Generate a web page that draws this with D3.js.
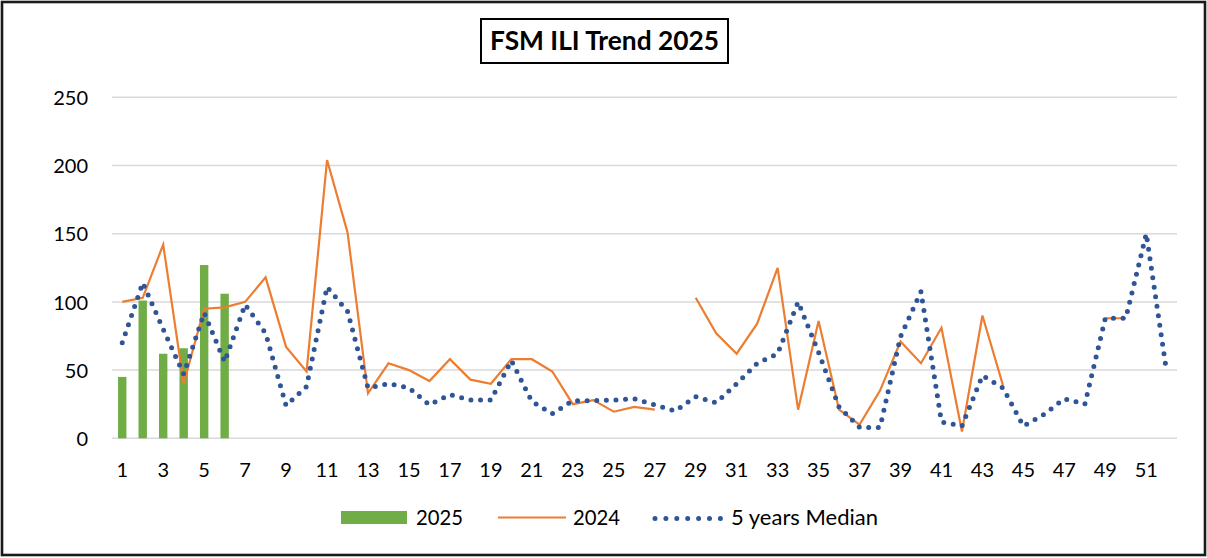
<!DOCTYPE html>
<html>
<head>
<meta charset="utf-8">
<script src="https://cdn.jsdelivr.net/npm/d3@7"></script>
<style>
  html, body { margin: 0; padding: 0; background: #fff; }
  svg { display: block; font-family: Lato, "Open Sans", sans-serif; }
</style>
</head>
<body>
<svg id="chart" width="1207" height="558"></svg>
<script>
// ---- data ----
const weeks = d3.range(1, 53);
const series2025 = [45, 101, 62, 66, 127, 106];
const series2024 = [100, 103, 142, 40, 95, 96, 100, 118, 67, 49,
                    204, 151, 33, 55, 50, 42, 58, 43, 40, 58,
                    58, 49, 25, 28, 19.5, 23, 21, null, 103, 77,
                    62, 84, 125, 21, 86, 21, 10, 35, 71, 55,
                    81, 5, 90, 39, null, null, null, null, 88, 88,
                    null, null];
const median5 = [70, 114, 80, 47, 92, 56, 98, 77, 24, 38,
                 111, 93, 37, 40, 37, 24.5, 32, 28, 28, 57,
                 27, 18, 27.6, 27.6, 28, 29, 24.5, 20, 30.5, 26,
                 40, 55, 62, 100, 63, 23, 8, 8, 74.5, 107.5,
                 12, 9, 46, 37, 9, 17.5, 29, 25, 88, 88,
                 150, 48];
const yTicks = [0, 50, 100, 150, 200, 250];
const xTickLabels = weeks.filter(w => w % 2 === 1);
const titleText = "FSM ILI Trend 2025";
const legendLabels = ["2025", "2024", "5 years Median"];

// ---- layout ----
const svg = d3.select("#chart");
const plot = { left: 112, right: 1177, top: 97.3, bottom: 438.3 };
const colors = { c2025: "#70ad47", c2024: "#ed7d31", median: "#2f5597", grid: "#d9d9d9" };

// outer border
svg.append("rect").attr("x", 2).attr("y", 2).attr("width", 1203).attr("height", 553)
  .attr("fill", "#fff").attr("stroke", "#1a1a1a").attr("stroke-width", 2.6);

// title box
svg.append("rect").attr("x", 481).attr("y", 19).attr("width", 247).attr("height", 44)
  .attr("fill", "#fff").attr("stroke", "#000").attr("stroke-width", 2);
svg.append("text").attr("x", 604.5).attr("y", 50).attr("text-anchor", "middle")
  .attr("font-size", 27).attr("font-weight", "bold").attr("fill", "#000")
  .attr("textLength", 229).attr("lengthAdjust", "spacingAndGlyphs")
  .text(titleText);

// scales
const x = d3.scaleBand().domain(weeks).range([plot.left, plot.right]).paddingInner(0).paddingOuter(0);
const y = d3.scaleLinear().domain([0, 250]).range([plot.bottom, plot.top]);
const cx = w => x(w) + x.bandwidth() / 2;

// gridlines
svg.append("g").selectAll("line").data(yTicks).join("line")
  .attr("x1", plot.left).attr("x2", plot.right)
  .attr("y1", d => y(d)).attr("y2", d => y(d))
  .attr("stroke", colors.grid).attr("stroke-width", 1.5);

// y axis labels
const yAxis = d3.axisLeft(y).tickValues(yTicks).tickSize(0).tickPadding(0);
const gy = svg.append("g").attr("transform", `translate(88,0)`).call(yAxis);
gy.select(".domain").remove();
gy.selectAll("text").attr("font-size", 20).attr("fill", "#000")
  .attr("font-family", "Lato, 'Open Sans', sans-serif").attr("dy", "0.36em");

// x axis labels
const xAxis = d3.axisBottom(x).tickValues(xTickLabels).tickSize(0).tickPadding(0);
const gx = svg.append("g").attr("transform", `translate(0,${plot.bottom})`).call(xAxis);
gx.select(".domain").remove();
gx.selectAll("text").attr("font-size", 20).attr("fill", "#000")
  .attr("font-family", "Lato, 'Open Sans', sans-serif").attr("dy", null).attr("y", 38.5);

// bars 2025
const barW = x.bandwidth() * 0.41;
svg.append("g").selectAll("rect").data(series2025.map((v, i) => ({ w: weeks[i], v })))
  .join("rect")
  .attr("x", d => cx(d.w) - barW / 2).attr("width", barW)
  .attr("y", d => y(d.v)).attr("height", d => y(0) - y(d.v))
  .attr("fill", colors.c2025);

// line 2024
const line = d3.line().defined(d => d.v != null).x(d => cx(d.w)).y(d => y(d.v));
svg.append("path").datum(series2024.map((v, i) => ({ w: weeks[i], v })))
  .attr("d", line).attr("fill", "none").attr("stroke", colors.c2024)
  .attr("stroke-width", 2.2).attr("stroke-linejoin", "miter");

// median dotted
svg.append("path").datum(median5.map((v, i) => ({ w: weeks[i], v })))
  .attr("d", line).attr("fill", "none").attr("stroke", colors.median)
  .attr("stroke-width", 5).attr("stroke-linecap", "round").attr("stroke-dasharray", "0 9.6");

// legend
const lg = svg.append("g");
lg.append("rect").attr("x", 341).attr("y", 511).attr("width", 66).attr("height", 13).attr("fill", colors.c2025);
lg.append("text").attr("x", 416).attr("y", 524.5).attr("font-size", 21).attr("fill", "#000")
  .attr("textLength", 47).attr("lengthAdjust", "spacingAndGlyphs").text(legendLabels[0]);
lg.append("line").attr("x1", 498).attr("x2", 566).attr("y1", 517.5).attr("y2", 517.5)
  .attr("stroke", colors.c2024).attr("stroke-width", 2.2);
lg.append("text").attr("x", 573).attr("y", 524.5).attr("font-size", 21).attr("fill", "#000")
  .attr("textLength", 47).attr("lengthAdjust", "spacingAndGlyphs").text(legendLabels[1]);
lg.append("line").attr("x1", 655).attr("x2", 721).attr("y1", 518.5).attr("y2", 518.5)
  .attr("stroke", colors.median).attr("stroke-width", 5).attr("stroke-linecap", "round")
  .attr("stroke-dasharray", "0 10.9");
lg.append("text").attr("x", 731).attr("y", 524.5).attr("font-size", 21).attr("fill", "#000")
  .attr("textLength", 147).attr("lengthAdjust", "spacingAndGlyphs").text(legendLabels[2]);
</script>
</body>
</html>
